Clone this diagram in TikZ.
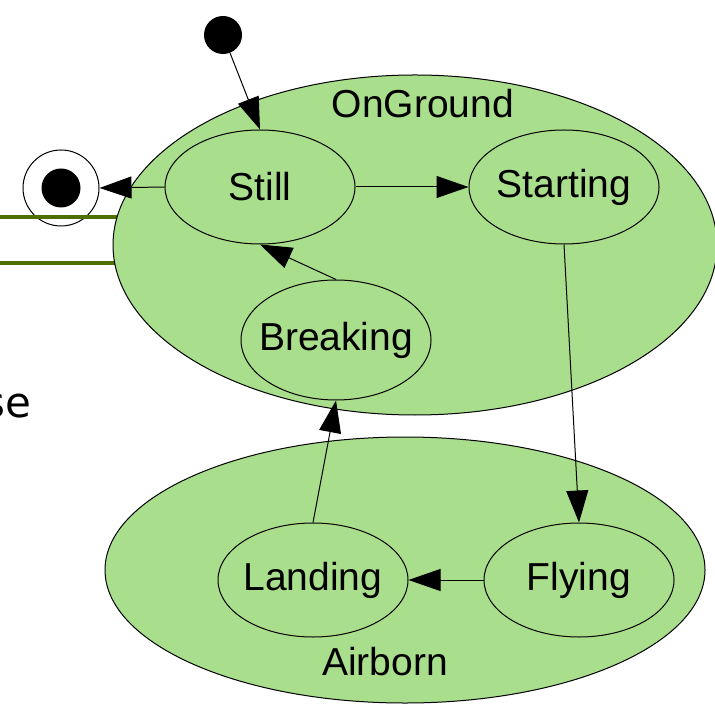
\documentclass[tikz,border=0pt]{standalone}
\usepackage{fontspec}
\setmainfont{Liberation Sans}
\newfontfamily\cutfont{DejaVu Sans}
\usetikzlibrary{arrows.meta,positioning,shapes.geometric}
\definecolor{StateGreen}{RGB}{169,222,140}
\definecolor{LaneOlive}{RGB}{78,110,0}

\begin{document}
\begin{tikzpicture}[
    x=0.5pt,y=-0.5pt,
    substate/.style={ellipse,draw,fill=StateGreen,line width=0.5pt,minimum width=95pt,minimum height=57pt,inner xsep=-6pt,inner ysep=0pt,font=\fontsize{19.5}{23}\selectfont},
    composite/.style={ellipse,draw,fill=StateGreen,line width=0.5pt,inner sep=0pt},
    arrow/.style={-{Triangle[length=16pt,width=11pt]},line width=0.5pt},
    lane/.style={LaneOlive,line width=1.6pt},
    lab/.style={font=\fontsize{19.5}{23}\selectfont}
  ]
    \useasboundingbox (0,0) rectangle (715,704);

    % pseudo states
    \node[circle,fill=black,minimum size=19pt,inner sep=0pt] (init) at (223,35) {};
    \node[circle,draw,fill=white,line width=0.5pt,minimum size=38pt,inner sep=0pt] (final) at (61,188) {};
    \node[circle,fill=black,minimum size=19.5pt,inner sep=0pt] (finaldot) at (final) {};

    % cut-off parts at the left border
    \draw[lane] (0,217) -- (130,217);
    \draw[lane] (0,263) -- (130,263);
    \node[font=\cutfont\fontsize{21}{25}\selectfont,anchor=base east,inner sep=0pt] (cutlabel) at (32,417) {se};

    % composite states
    \node[composite,minimum width=302pt,minimum height=170pt] (onground) at (415,245) {};
    \node[lab] (ongroundlabel) at (423,104) {OnGround};
    \node[composite,minimum width=300pt,minimum height=133pt] (airborn) at (405,570) {};
    \node[lab] (airbornlabel) at (385,662) {Airborn};

    % sub states
    \node[substate] (still) at (260,187) {Still};
    \node[substate] (starting) at (564,187) {Starting};
    \node[substate,minimum height=60pt] (breaking) at (336,340) {Breaking};
    \node[substate] (flying) at (579,580) {Flying};
    \node[substate] (landing) at (313,580) {Landing};

    \draw[arrow] (init) -- (still.north);
    \draw[arrow] (still.west) -- (final.east);
    \draw[arrow] (still.east) -- (starting.west);
    \draw[arrow] (starting.south) -- (flying.north);
    \draw[arrow] (flying.west) -- (landing.east);
    \draw[arrow] (landing.north) -- (breaking.south);
    \draw[arrow] (breaking.north) -- (still.south);
\end{tikzpicture}
\end{document}
